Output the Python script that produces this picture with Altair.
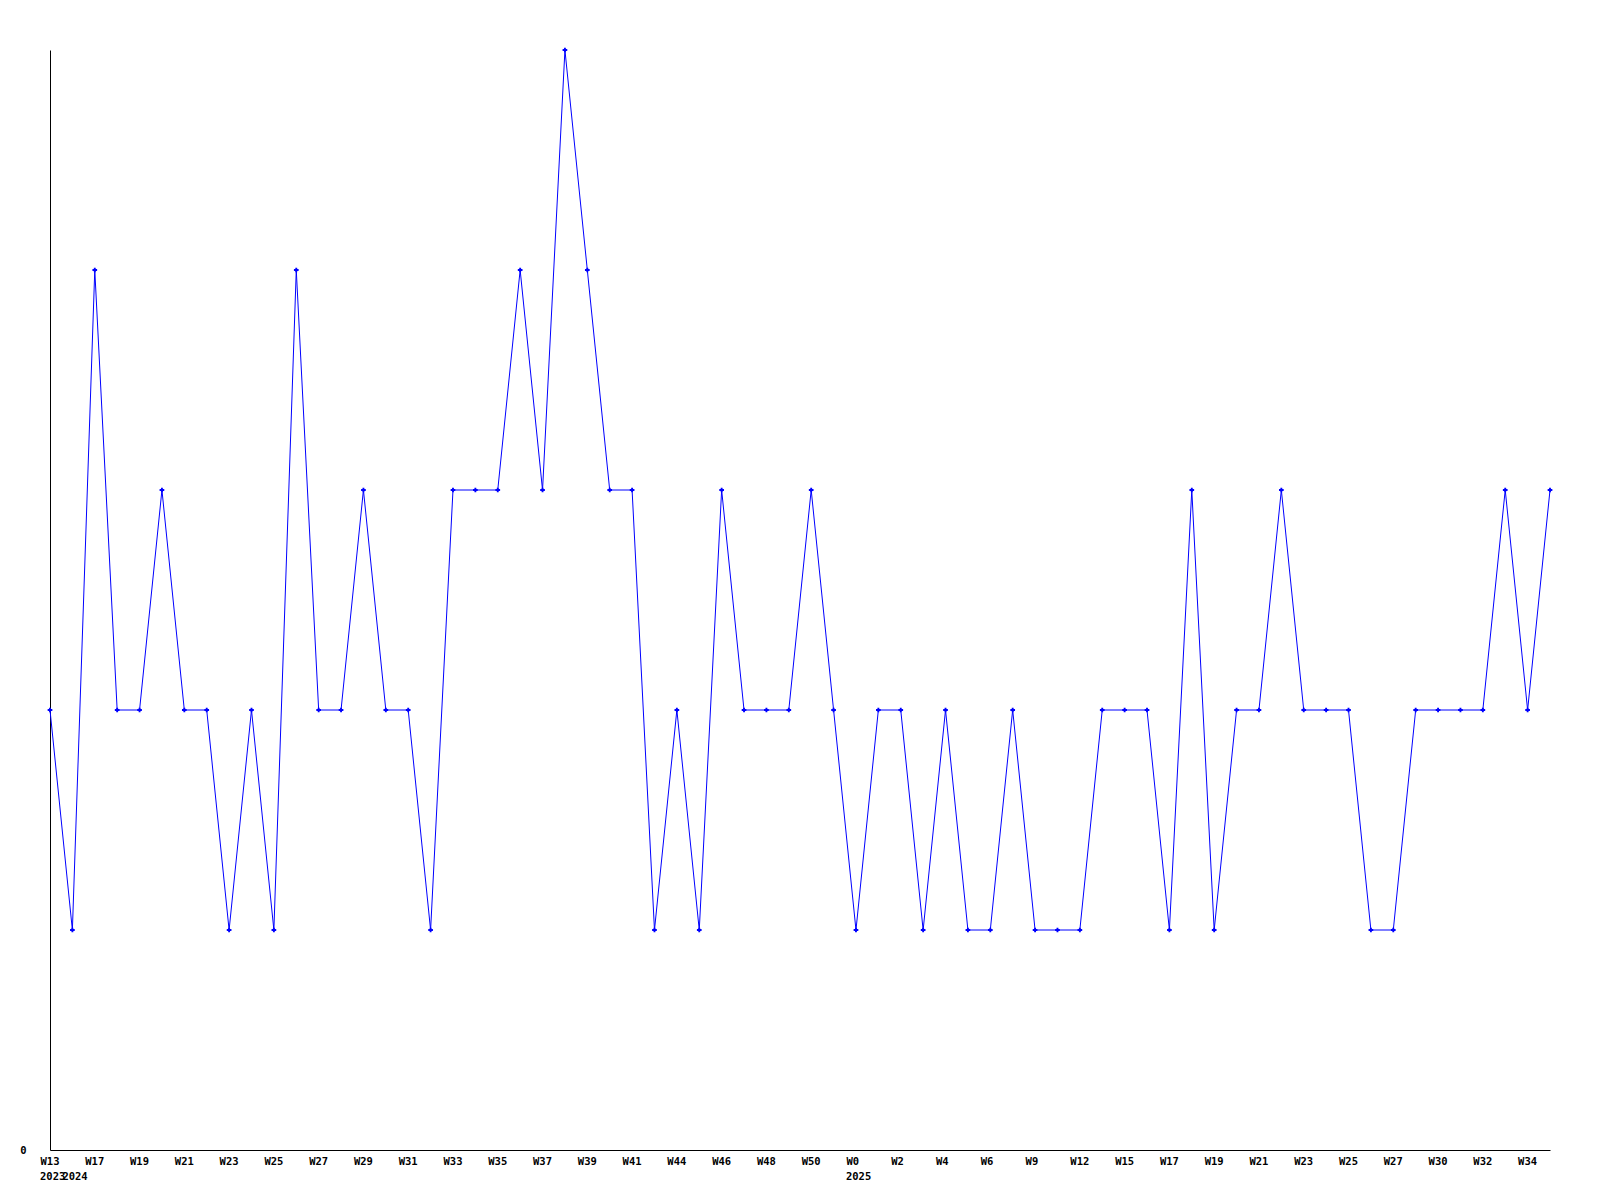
import altair as alt
import pandas as pd

weeks = ["W13", "W16", "W17", "W18", "W19", "W20", "W21", "W22", "W23", "W24",
         "W25", "W26", "W27", "W28", "W29", "W30", "W31", "W32", "W33", "W34",
         "W35", "W36", "W37", "W38", "W39", "W40", "W41", "W43", "W44", "W45",
         "W46", "W47", "W48", "W49", "W50", "W51", "W0", "W1", "W2", "W3",
         "W4", "W5", "W6", "W8", "W9", "W11", "W12", "W14", "W15", "W16",
         "W17", "W18", "W19", "W20", "W21", "W22", "W23", "W24", "W25", "W26",
         "W27", "W29", "W30", "W31", "W32", "W33", "W34", "W35"]
values = [2, 1, 4, 2, 2, 3, 2, 2, 1, 2,
          1, 4, 2, 2, 3, 2, 2, 1, 3, 3,
          3, 4, 3, 5, 4, 3, 3, 1, 2, 1,
          3, 2, 2, 2, 3, 2, 1, 2, 2, 1,
          2, 1, 1, 2, 1, 1, 1, 2, 2, 2,
          1, 3, 1, 2, 2, 3, 2, 2, 2, 1,
          1, 2, 2, 2, 2, 3, 2, 3]
year_labels = ["2023", "2024", "2025"]
year_index = [0, 1, 36]

df = pd.DataFrame({"i": list(range(len(values))), "week": weeks, "v": values})
ydf = pd.DataFrame({"i": year_index, "year": year_labels})

label_arr = "[" + ",".join('"%s"' % w for w in weeks) + "]"
tick_vals = list(range(0, len(values), 2))

FONT = "DejaVu Sans Mono"

xscale = alt.Scale(domain=[0, len(values) - 1], nice=False, zero=False)
yscale = alt.Scale(domain=[0, 5], nice=False)

base = alt.Chart(df).encode(
    x=alt.X("i:Q", scale=xscale,
            axis=alt.Axis(values=tick_vals, labelExpr=label_arr + "[datum.value]",
                          title=None, grid=False, ticks=False, domain=True,
                          domainColor="black", domainWidth=1,
                          labelAlign="left", labelOffset=-10, labelPadding=6,
                          labelFont=FONT, labelFontSize=10.5, labelFontWeight="bold",
                          labelColor="black", labelOverlap=False, labelFlush=False)),
    y=alt.Y("v:Q", scale=yscale,
            axis=alt.Axis(values=[0], title=None, grid=False, ticks=False,
                          domainColor="black", domainWidth=1, labelPadding=24,
                          labelFont=FONT, labelFontSize=10.5, labelFontWeight="bold",
                          labelColor="black", labelBaseline="middle")),
)

line = base.mark_line(color="#0000ff", strokeWidth=1)
pts = base.mark_point(shape="cross", filled=True, color="#0000ff", size=22, opacity=1)

years = alt.Chart(ydf).mark_text(
    align="left", baseline="top", dx=-10, font=FONT, fontSize=10.5,
    fontWeight="bold", color="black"
).encode(
    x=alt.X("i:Q", scale=xscale),
    y=alt.value(1122),
    text="year:N",
)

chart = alt.layer(line, pts, years).properties(
    width=1500, height=1100,
    background="white",
    autosize=alt.AutoSizeParams(type="none"),
    padding={"left": 42, "top": 42, "right": 42, "bottom": 42},
).configure_view(stroke=None, strokeWidth=0)

chart.save("out.html", embed_options={"renderer": "svg", "actions": False})
